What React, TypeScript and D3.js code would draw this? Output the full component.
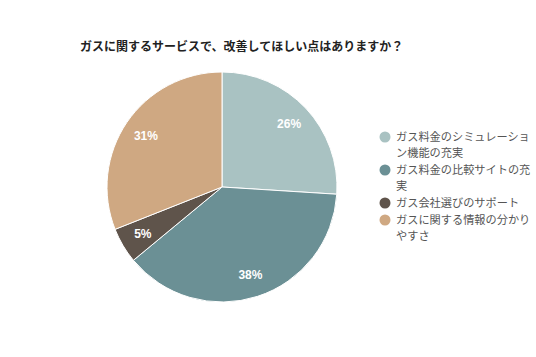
import React from "react";
import * as d3 from "d3";

const title = "ガスに関するサービスで、改善してほしい点はありますか？";
const categories = [
  "ガス料金のシミュレーション機能の充実",
  "ガス料金の比較サイトの充実",
  "ガス会社選びのサポート",
  "ガスに関する情報の分かりやすさ",
];
const legendLines = [
  ["ガス料金のシミュレーショ", "ン機能の充実"],
  ["ガス料金の比較サイトの充", "実"],
  ["ガス会社選びのサポート"],
  ["ガスに関する情報の分かり", "やすさ"],
];
const values = [26, 38, 5, 31];
const colors = ["#a9c2c2", "#6b9095", "#5f544b", "#cfa882"];

export default function App() {
  const W = 536, H = 357;
  const cx = 222, cy = 187, r = 115;
  const pie = d3.pie<number>().sort(null).value((d) => d)(values);
  const arc = d3.arc<d3.PieArcDatum<number>>().innerRadius(0).outerRadius(r);
  const labelArc = d3.arc<d3.PieArcDatum<number>>().innerRadius(r * 0.8).outerRadius(r * 0.8);
  const font = "Arial, 'Liberation Sans', 'Noto Sans CJK JP', sans-serif";
  const lineH = 16;
  let y = 137;
  const items = legendLines.map((lines, i) => {
    const y0 = y;
    y += lines.length * lineH + 1;
    return { lines, y0, i };
  });
  return (
    <svg width={W} height={H} style={{ position: "absolute", left: 0, top: 0 }} fontFamily={font}>
      <rect width={W} height={H} fill="#fff" />
      <text x={80} y={51} fontSize={12} fontWeight="bold" fill="#222">{title}</text>
      <g transform={`translate(${cx},${cy})`}>
        {pie.map((p, i) => (
          <path key={i} d={arc(p) || ""} fill={colors[i]} stroke="#fff" strokeWidth={1} />
        ))}
        {pie.map((p, i) => {
          const [lx, ly] = labelArc.centroid(p);
          return (
            <text key={i} x={lx} y={ly} dy="0.35em" textAnchor="middle" fontSize={12} fontWeight="600" fill="#fff">
              {values[i]}%
            </text>
          );
        })}
      </g>
      {items.map(({ lines, y0, i }) => (
        <g key={i}>
          <circle cx={385} cy={y0} r={5.5} fill={colors[i]} />
          {lines.map((l, j) => (
            <text key={j} x={396} y={y0 + j * lineH} dy="0.35em" fontSize={11.2} fill="#555">{l}</text>
          ))}
        </g>
      ))}
    </svg>
  );
}
